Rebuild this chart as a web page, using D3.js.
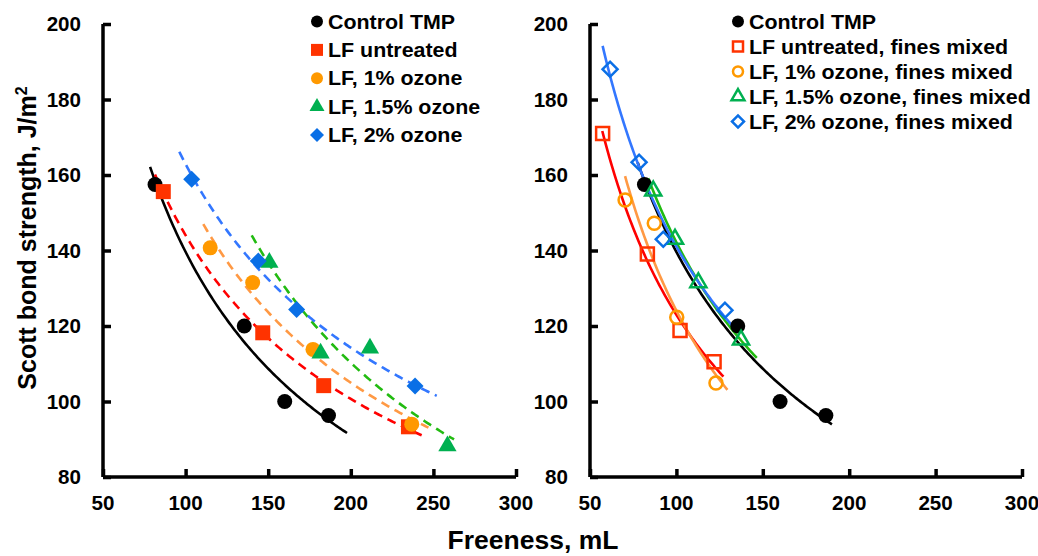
<!DOCTYPE html>
<html>
<head>
<meta charset="utf-8">
<title>Scott bond strength vs freeness</title>
<script src="https://d3js.org/d3.v7.min.js"></script>
<style>
body { margin: 0; background: #fff; }
text { font-family: "Liberation Sans", Arial, sans-serif; font-weight: bold; fill: #000; }
.axis path, .axis line { stroke: #000; stroke-width: 3.5px; }
.trend { fill: none; stroke-width: 2.6px; }
</style>
</head>
<body>
<script>
// values
var xTicks = [50, 100, 150, 200, 250, 300];
var yTicks = [80, 100, 120, 140, 160, 180, 200];

var controlX = [81.5, 135.5, 160, 186.5];
var controlY = [157.5, 120, 100, 96.3];

// left panel
var lfUntreatedX = [86.5, 146.7, 183.6, 234.9];
var lfUntreatedY = [155.6, 118.2, 104.2, 93.3];
var lf1X = [114.9, 140.6, 177.1, 236.9];
var lf1Y = [140.7, 131.5, 113.8, 94.0];
var lf15X = [150.7, 181.7, 211.6, 258.5];
var lf15Y = [136.8, 112.8, 114.1, 88.2];
var lf2X = [103.7, 144, 167.2, 238.9];
var lf2Y = [158.9, 137.2, 124.4, 104.1];

// right panel (fines mixed)
var mixUntreatedX = [57.3, 83.2, 102.1, 121.8];
var mixUntreatedY = [171, 139.1, 118.8, 110.5];
var mix1X = [70.3, 87.2, 100.2, 122.9];
var mix1Y = [153.4, 147.2, 122.3, 104.9];
var mix15X = [86.6, 99.2, 112.7, 137.4];
var mix15Y = [155.8, 143, 131.5, 116.3];
var mix2X = [61.6, 78.4, 92.4, 128.1];
var mix2Y = [188, 163.4, 143, 124.2];

// freeness range covered by each power trendline
var leftFitRange = [[78.5, 197.7], [81.5, 242.9], [110.7, 247], [140, 262.5], [96.2, 252]];
var rightFitRange = [[77.6, 190], [57.1, 127.2], [70.3, 129.5], [83.7, 146.5], [57.3, 132]];

var leftNames = ["Control TMP", "LF untreated", "LF, 1% ozone", "LF, 1.5% ozone", "LF, 2% ozone"];
var rightNames = ["Control TMP", "LF untreated, fines mixed", "LF, 1% ozone, fines mixed",
                  "LF, 1.5% ozone, fines mixed", "LF, 2% ozone, fines mixed"];

var markColor = ["#000000", "#ff3300", "#ff9900", "#00b050", "#0a6fe6"];
var lineColor = ["#000000", "#ff0000", "#ff9944", "#22bb11", "#3377ff"];
var shapes = ["circle", "square", "circle", "triangle", "diamond"];

var width = 1038, height = 556;
var svg = d3.select("body").append("svg")
    .attr("width", width)
    .attr("height", height);

// least squares fit of y = a * x^b, like the spreadsheet trendline
function powerFit(xs, ys) {
  var lx = xs.map(Math.log), ly = ys.map(Math.log);
  var mx = d3.mean(lx), my = d3.mean(ly);
  var sxy = d3.sum(lx, function(d, i) { return (d - mx) * (ly[i] - my); });
  var sxx = d3.sum(lx, function(d) { return (d - mx) * (d - mx); });
  var b = sxy / sxx;
  var a = Math.exp(my - b * mx);
  return function(x) { return a * Math.pow(x, b); };
}

function symbolPath(shape, s) {
  var type = { circle: d3.symbolCircle, square: d3.symbolSquare, triangle: d3.symbolTriangle, diamond: d3.symbolSquare }[shape];
  return d3.symbol().type(type).size(s * s * (shape == "circle" ? 0.785 : shape == "triangle" ? 0.5 : shape == "diamond" ? 0.5 : 1))();
}

function drawPanel(g, x0, x1, series, names, fitRange, dashed, open, legX, legY, legStep) {
  var x = d3.scaleLinear().domain([50, 300]).range([x0, x1]);
  var y = d3.scaleLinear().domain([80, 200]).range([477, 24]);

  g.append("g").attr("class", "axis")
      .attr("transform", "translate(0,477)")
      .call(d3.axisTop(x).tickValues(xTicks).tickSize(8).tickFormat(""))
      .call(function(a) { a.select(".domain").attr("d", "M" + x0 + ",0H" + x1); });
  g.append("g").attr("class", "axis")
      .attr("transform", "translate(" + x0 + ",0)")
      .call(d3.axisRight(y).tickValues(yTicks).tickSize(8).tickFormat(""))
      .call(function(a) { a.select(".domain").attr("d", "M0,24V477"); });

  g.selectAll("text.xt").data(xTicks).enter().append("text")
      .attr("class", "xt")
      .attr("transform", function(d) { return "translate(" + x(d) + ",510) scale(1.03,1)"; })
      .attr("text-anchor", "middle")
      .style("font-size", "20px")
      .text(function(d) { return d; });
  g.selectAll("text.yt").data(yTicks).enter().append("text")
      .attr("class", "yt")
      .attr("transform", function(d) { return "translate(" + (x0 - 22) + "," + (y(d) + 7) + ") scale(1.03,1)"; })
      .attr("text-anchor", "end")
      .style("font-size", "20px")
      .text(function(d) { return d; });

  // trendlines
  series.forEach(function(s, i) {
    var f = powerFit(s[0], s[1]);
    var xs = d3.range(fitRange[i][0], fitRange[i][1], 1).concat([fitRange[i][1]]);
    g.append("path")
        .attr("class", "trend")
        .attr("stroke", lineColor[i])
        .attr("stroke-dasharray", dashed && i > 0 ? "9,6" : null)
        .attr("d", d3.line()
            .x(function(d) { return x(d); })
            .y(function(d) { return y(f(d)); })(xs));
  });

  // markers
  series.forEach(function(s, i) {
    var isOpen = open && i > 0;
    var sz = shapes[i] == "triangle" ? 17 : shapes[i] == "diamond" ? 17 : 15;
    if (isOpen) sz = shapes[i] == "diamond" ? 15 : shapes[i] == "triangle" ? 15 : 13;
    g.selectAll("path.m" + i).data(s[0]).enter().append("path")
        .attr("class", "m" + i)
        .attr("d", symbolPath(shapes[i], sz))
        .attr("transform", function(d, j) {
          return "translate(" + x(d) + "," + y(s[1][j]) + ")" + (shapes[i] == "diamond" ? " rotate(45)" : "");
        })
        .attr("fill", isOpen ? "none" : markColor[i])
        .attr("stroke", isOpen ? markColor[i] : "none")
        .attr("stroke-width", isOpen ? 2.5 : 0);
  });

  // legend
  names.forEach(function(n, i) {
    var isOpen = open && i > 0;
    var ly = legY + i * legStep;
    var sz = isOpen ? 10 : 12;
    if (shapes[i] == "triangle" || shapes[i] == "diamond") sz += 2;
    g.append("path")
        .attr("d", symbolPath(shapes[i], sz))
        .attr("transform", "translate(" + legX + "," + ly + ")" + (shapes[i] == "diamond" ? " rotate(45)" : ""))
        .attr("fill", isOpen ? "none" : markColor[i])
        .attr("stroke", isOpen ? markColor[i] : "none")
        .attr("stroke-width", isOpen ? 2.5 : 0);
    g.append("text")
        .attr("transform", "translate(" + (legX + 11) + "," + (ly + 7) + ") scale(1.07,1)")
        .style("font-size", "20px")
        .text(n);
  });
}

var leftSeries = [[controlX, controlY], [lfUntreatedX, lfUntreatedY], [lf1X, lf1Y], [lf15X, lf15Y], [lf2X, lf2Y]];
var rightSeries = [[controlX, controlY], [mixUntreatedX, mixUntreatedY], [mix1X, mix1Y], [mix15X, mix15Y], [mix2X, mix2Y]];

drawPanel(svg.append("g"), 103, 516, leftSeries, leftNames, leftFitRange, true, false, 317, 21.5, 28.4);
drawPanel(svg.append("g"), 590, 1022, rightSeries, rightNames, rightFitRange, false, true, 738, 21.5, 25);

// axis titles
svg.append("text")
    .attr("transform", "translate(36,238) rotate(-90)")
    .attr("text-anchor", "middle")
    .style("font-size", "25px")
    .text("Scott bond strength, J/m")
  .append("tspan")
    .attr("dy", -9)
    .style("font-size", "16px")
    .text("2");

svg.append("text")
    .attr("transform", "translate(533,549) scale(1.06,1)")
    .attr("text-anchor", "middle")
    .style("font-size", "25px")
    .text("Freeness, mL");
</script>
</body>
</html>
